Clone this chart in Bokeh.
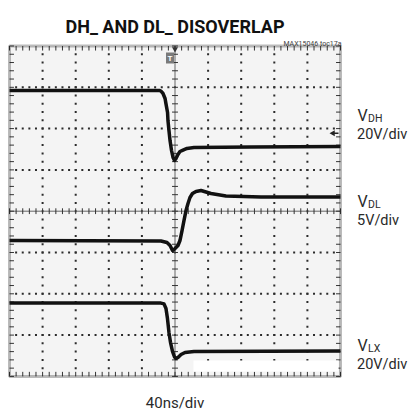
import numpy as np
from bokeh.plotting import figure
from bokeh.models import Range1d, BoxAnnotation
from bokeh.core.properties import value
from bokeh.embed import file_html
from bokeh.resources import INLINE

# ---------------- data (read from the scope shot) ----------------
# time in ns (t=0 at the trigger / screen centre), 40 ns/div
t_dh = [-200, -19, -17, -14.5, -12, -11, -9, -8.5, -7.3, -6, -4.2, -2.4, -0.6, 1.2, 3.6, 6, 9.7, 14.5, 23, 92, 200]
v_dh = [27.5, 27.5, 27.2, 26.0, 23.6, 21.2, 16.8, 12.9, 8.1, 3.2, -1.6, -5.0, -6.4, -5.5, -3.5, -2.1, -1.4, -0.6, -0.2, 0.1, 0.3]

t_dl = [-200, -17, -9.7, -6, -3, -1.2, 1.2, 3.6, 6, 8.5, 10.9, 13.3, 15.7, 18.1, 21.1, 25.4, 31.4, 43.5, 61.6, 104, 200]
v_dl = [0.0, -0.06, -0.24, -0.6, -1.2, -1.1, -0.85, -0.6, 0.0, 1.2, 2.43, 3.63, 4.48, 5.21, 5.69, 5.94, 6.05, 5.69, 5.39, 5.27, 5.27]

t_lx = [-200, -17, -13.3, -10.9, -9.1, -7.3, -5.4, -3.0, -0.6, 1.2, 3.6, 7.3, 12.1, 23, 200]
v_lx = [23.2, 23.2, 22.8, 20.6, 15.7, 9.0, 4.1, -0.2, -2.9, -3.6, -3.1, -1.7, -0.7, -0.2, 0.0]

# channel settings: volts/div and ground position (div from centre)
ch_names = ["DH", "DL", "LX"]
ch_vdiv = [20, 5, 20]
ch_ofs = [1.55, -0.71, -3.385]
ch_labels = ["20V/div", "5V/div", "20V/div"]

title = "DH_ AND DL_ DISOVERLAP"
ref_text = "MAX15046 toc17a"
time_label = "40ns/div"
NS_PER_DIV = 40
N_HDIV, N_VDIV = 10, 8

# ---------------- layout helpers (page pixel -> data) ----------------
PX_NS = 33.1 / NS_PER_DIV
X0 = 174.5
PX_DIV = 41.3
Y0 = 210.7


def tx(px):
    return (px - X0) / PX_NS


def ty(py):
    return (Y0 - py) / PX_DIV


FONT = "Roboto"

p = figure(width=408, height=410,
           x_range=Range1d(tx(0), tx(408)), y_range=Range1d(ty(410), ty(0)),
           x_axis_type=None, y_axis_type=None,
           toolbar_location=None, output_backend="svg",
           min_border=0, outline_line_color=None,
           background_fill_color="white", border_fill_color="white")

half_t = N_HDIV / 2 * NS_PER_DIV
half_v = N_VDIV / 2

# screen background
p.add_layout(BoxAnnotation(left=-half_t, right=half_t, bottom=-half_v, top=half_v,
                           fill_color="#f4f4f4", fill_alpha=1, line_color=None,
                           level="underlay"))

# dotted graticule
minor_t = np.arange(-half_t, half_t + 0.1, NS_PER_DIV / 5)
minor_v = np.arange(-half_v, half_v + 0.001, 0.2)
major_t = [m for m in np.arange(-half_t + NS_PER_DIV, half_t, NS_PER_DIV) if abs(m) > 1e-6]
major_v = [m for m in np.arange(-half_v + 1, half_v, 1) if abs(m) > 1e-6]

dx, dy = [], []
for m in major_t:
    for v in minor_v[1:-1]:
        dx.append(m); dy.append(v)
for m in major_v:
    for t in minor_t[1:-1]:
        dx.append(t); dy.append(m)
p.scatter(dx, dy, marker="square", size=2, fill_color="#2b2b2b", line_color=None)

# centre cross with ticks
p.line([-half_t, half_t], [0, 0], line_color="#666666", line_width=1)
p.line([0, 0], [-half_v, half_v], line_color="#666666", line_width=1)
tk = 0.07
p.segment(x0=minor_t, y0=[-tk] * len(minor_t), x1=minor_t, y1=[tk] * len(minor_t),
          line_color="#333333", line_width=1)
tt = 3.6
p.segment(x0=[-tt] * len(minor_v), y0=minor_v, x1=[tt] * len(minor_v), y1=minor_v,
          line_color="#333333", line_width=1)

# border ticks
bt_v = 0.11
bt_t = 5.4
p.segment(x0=minor_t, y0=[half_v] * len(minor_t), x1=minor_t, y1=[half_v - bt_v] * len(minor_t),
          line_color="#333333", line_width=1)
p.segment(x0=minor_t, y0=[-half_v] * len(minor_t), x1=minor_t, y1=[-half_v + bt_v] * len(minor_t),
          line_color="#333333", line_width=1)
p.segment(x0=[-half_t] * len(minor_v), y0=minor_v, x1=[-half_t + bt_t] * len(minor_v), y1=minor_v,
          line_color="#333333", line_width=1)
p.segment(x0=[half_t] * len(minor_v), y0=minor_v, x1=[half_t - bt_t] * len(minor_v), y1=minor_v,
          line_color="#333333", line_width=1)

# blank patch near bottom right of screen
p.add_layout(BoxAnnotation(left=tx(193), right=tx(338), bottom=ty(371), top=ty(360),
                           fill_color="white", fill_alpha=1, line_color=None))

# traces
for (tt_, vv_), vdiv, ofs in zip([(t_dh, v_dh), (t_dl, v_dl), (t_lx, v_lx)], ch_vdiv, ch_ofs):
    yy = [v / vdiv + ofs for v in vv_]
    p.line(tt_, yy, line_color="#111111", line_width=3.5, line_join="round")

# screen border
p.add_layout(BoxAnnotation(left=-half_t, right=half_t, bottom=-half_v, top=half_v,
                           fill_alpha=0, line_color="#1e1e1e", line_width=3, level="overlay"))

# trigger markers
p.rect(x=[tx(169.5)], y=[ty(57.5)], width=8, height=11, width_units="screen",
       height_units="screen", fill_color="#7a7a7a", line_color=None)
p.text(x=[tx(169.5)], y=[ty(57.5)], text=["T"], text_color="white",
       text_font=value(FONT), text_font_size="8px", text_font_style="bold",
       text_align="center", text_baseline="middle")
p.scatter([0], [ty(48.5)], marker="inverted_triangle", size=6, fill_color="#333333", line_color=None)
p.scatter([tx(332.5)], [ty(132.7)], marker="triangle", angle=np.pi / 2, size=6,
          fill_color="#222222", line_color=None)
p.segment(x0=[tx(332.5)], y0=[ty(132.7)], x1=[tx(338)], y1=[ty(132.7)], line_color="#222222", line_width=1.5)

# channel labels
label_base = [115, 201, 345]
for name, lab, b in zip(ch_names, ch_labels, label_base):
    p.text(x=[tx(357)], y=[ty(b)], text=["V"], text_color="#2a2a2a",
           text_font=value(FONT), text_font_size="16px",
           text_align="left", text_baseline="alphabetic")
    p.text(x=[tx(367.5)], y=[ty(b + 3)], text=[name], text_color="#2a2a2a",
           text_font=value(FONT), text_font_size="10.5px",
           text_align="left", text_baseline="alphabetic")
    p.text(x=[tx(356.5)], y=[ty(b + 19)], text=[lab], text_color="#2a2a2a",
           text_font=value(FONT), text_font_size="14.5px",
           text_align="left", text_baseline="alphabetic")

# title, ref text, time base
p.text(x=[tx(174.5)], y=[ty(25.5)], text=[title], text_color="#111111",
       text_font=value(FONT), text_font_size="18px", text_font_style="bold",
       text_align="center", text_baseline="alphabetic")
p.text(x=[tx(341)], y=[ty(43)], text=[ref_text], text_color="#444444",
       text_font=value(FONT), text_font_size="7px",
       text_align="right", text_baseline="alphabetic")
p.text(x=[tx(174.5)], y=[ty(402)], text=[time_label], text_color="#2a2a2a",
       text_font=value(FONT), text_font_size="15px",
       text_align="center", text_baseline="alphabetic")

open("out.html", "w").write(file_html(p, INLINE))
